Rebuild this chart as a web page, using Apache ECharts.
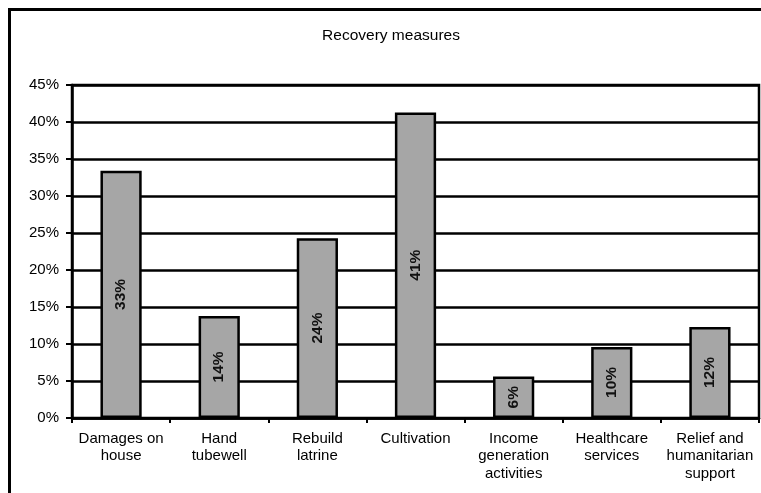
<!DOCTYPE html>
<html>
<head>
<meta charset="utf-8">
<script src="https://cdn.jsdelivr.net/npm/echarts@6/dist/echarts.min.js"></script>
<style>
html,body{margin:0;padding:0;background:#fff;}
#chart{width:761px;height:493px;}
</style>
</head>
<body>
<div id="chart"></div>
<script>
// Share of households naming each recovery measure (%)
const categories = [
  'Damages on\nhouse',
  'Hand\ntubewell',
  'Rebuild\nlatrine',
  'Cultivation',
  'Income\ngeneration\nactivities',
  'Healthcare\nservices',
  'Relief and\nhumanitarian\nsupport'
];
const shares = [33.4, 13.8, 24.3, 41.3, 5.6, 9.6, 12.3];
const labelTexts = ['33%', '14%', '24%', '41%', '6%', '10%', '12%'];
const yTicks = [0, 5, 10, 15, 20, 25, 30, 35, 40, 45];

const FONT = '"Liberation Sans", Arial, sans-serif';
const chart = echarts.init(document.getElementById('chart'));

chart.setOption({
  animation: false,
  backgroundColor: '#ffffff',
  title: {
    text: 'Recovery measures',
    left: 386,
    top: 23,
    textAlign: 'center',
    textStyle: { fontFamily: FONT, fontSize: 15.5, fontWeight: 'normal', color: '#000' }
  },
  graphic: [{
    type: 'rect',
    shape: { x: 9.5, y: 9.5, width: 800, height: 600 },
    style: { fill: 'none', stroke: '#000', lineWidth: 3 },
    silent: true
  }],
  grid: {
    left: 72, right: 2, top: 85, bottom: 75,
    show: true, borderColor: '#000', borderWidth: 2.5
  },
  xAxis: {
    type: 'category',
    data: categories,
    boundaryGap: true,
    axisLine: { lineStyle: { color: '#000', width: 2.5 } },
    axisTick: { show: true, alignWithLabel: false, length: 5, lineStyle: { color: '#000', width: 2 } },
    axisLabel: {
      interval: 0, margin: 12, color: '#000',
      fontFamily: FONT, fontSize: 15, lineHeight: 17.5
    }
  },
  yAxis: {
    type: 'value',
    min: yTicks[0],
    max: yTicks[yTicks.length - 1],
    interval: 5,
    axisLine: { show: true, lineStyle: { color: '#000', width: 2.5 } },
    axisTick: { show: true, length: 6, lineStyle: { color: '#000', width: 2 } },
    axisLabel: {
      margin: 13, color: '#000', fontFamily: FONT, fontSize: 15,
      formatter: v => v + '%'
    },
    splitLine: { show: true, lineStyle: { color: '#000', width: 2.5 } }
  },
  series: [{
    type: 'bar',
    data: shares,
    barWidth: '42%',
    itemStyle: { color: '#a6a6a6', borderColor: '#000', borderWidth: 2.5 },
    label: {
      show: true,
      position: 'inside',
      rotate: 90,
      color: '#111',
      fontFamily: FONT,
      fontSize: 15.5,
      fontWeight: 'bold',
      formatter: p => labelTexts[p.dataIndex]
    }
  }]
});
</script>
</body>
</html>
